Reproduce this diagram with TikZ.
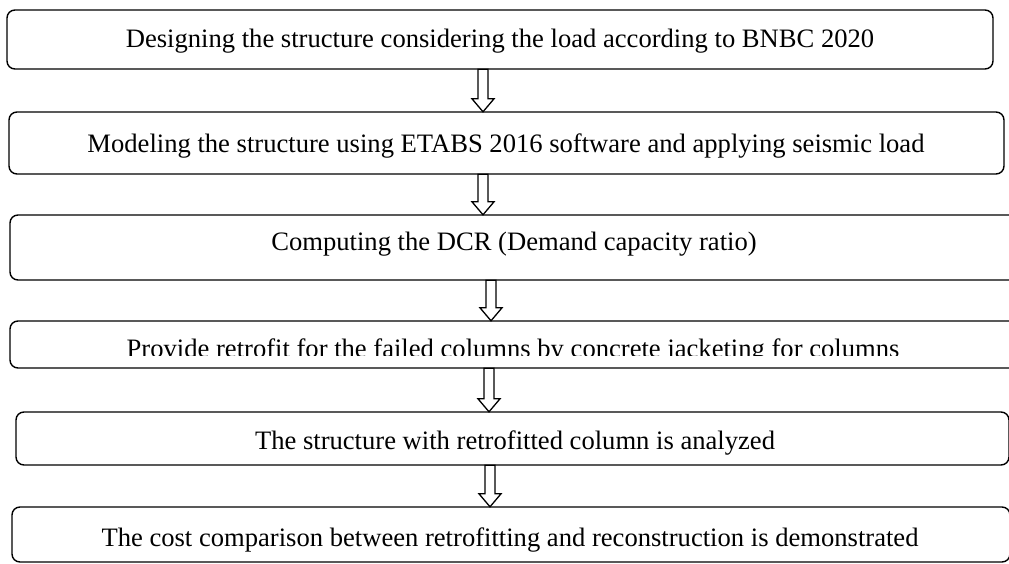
\documentclass[tikz,border=0pt]{standalone}
\usepackage{fontspec}
\setmainfont{Liberation Serif}
\usetikzlibrary{calc}

\tikzset{
  stepbox/.style={draw, line width=1.4pt, rounded corners=8pt, inner sep=0pt},
  steptext/.style={inner sep=0pt, font=\fontsize{26.6}{30}\selectfont, anchor=base},
  hollowarrow/.style={draw, line width=1.3pt, fill=white, line join=miter},
}

% hollow block arrow from #1 (top of shaft) down to #2 (tip)
\newcommand{\blockarrow}[2]{%
  \draw[hollowarrow]
    ($(#1)+(-5,0)$) -- ($(#2)+(-5,-13)$) -- ($(#2)+(-11,-13)$) -- (#2)
    -- ($(#2)+(11,-13)$) -- ($(#2)+(5,-13)$) -- ($(#1)+(5,0)$) -- cycle;}

\begin{document}
\begin{tikzpicture}[x=1pt, y=-1pt]
\useasboundingbox (0,0) rectangle (1009,564);
\clip (0,0) rectangle (1009,564);

% process boxes
\path[stepbox] (7,10) rectangle (993,69);
\node[minimum width=986pt, minimum height=59pt] (box1) at (500,39.5) {};
\path[stepbox] (9,112) rectangle (1004,174);
\node[minimum width=995pt, minimum height=62pt] (box2) at (506.5,143) {};
\path[stepbox] (10,215) rectangle (1020,280);
\node[minimum width=1010pt, minimum height=65pt] (box3) at (515,247.5) {};
\path[stepbox] (10,321) rectangle (1020,368);
\node[minimum width=1010pt, minimum height=47pt] (box4) at (515,344.5) {};
\path[stepbox] (16,412) rectangle (1009,465);
\node[minimum width=993pt, minimum height=53pt] (box5) at (512.5,438.5) {};
\path[stepbox] (12,507) rectangle (1010,562);
\node[minimum width=998pt, minimum height=55pt] (box6) at (511,534.5) {};

% step texts
\node[steptext] (t1) at (500,48) {Designing the structure considering the load according to BNBC 2020};
\node[steptext] (t2) at (506,153) {Modeling the structure using ETABS 2016 software and applying seismic load};
\node[steptext] (t3) at (514,251) {Computing the DCR (Demand capacity ratio)};
\begin{scope}
  \clip (0,321) rectangle (1009,355);
  \node[steptext] (t4) at (513,357) {Provide retrofit for the failed columns by concrete jacketing for columns};
\end{scope}
\node[steptext] (t5) at (515,449) {The structure with retrofitted column is analyzed};
\node[steptext] (t6) at (510,546) {The cost comparison between retrofitting and reconstruction is demonstrated};

% arrow columns
\coordinate (ax1) at (483,0);
\coordinate (ax2) at (483,0);
\coordinate (ax3) at (491,0);
\coordinate (ax4) at (489,0);
\coordinate (ax5) at (490,0);

\coordinate (s1) at (box1.south -| ax1); \coordinate (e1) at (box2.north -| ax1);
\coordinate (s2) at (box2.south -| ax2); \coordinate (e2) at (box3.north -| ax2);
\coordinate (s3) at (box3.south -| ax3); \coordinate (e3) at (box4.north -| ax3);
\coordinate (s4) at (box4.south -| ax4); \coordinate (e4) at (box5.north -| ax4);
\coordinate (s5) at (box5.south -| ax5); \coordinate (e5) at (box6.north -| ax5);

\blockarrow{s1}{e1}
\blockarrow{s2}{e2}
\blockarrow{s3}{e3}
\blockarrow{s4}{e4}
\blockarrow{s5}{e5}
\end{tikzpicture}
\end{document}
